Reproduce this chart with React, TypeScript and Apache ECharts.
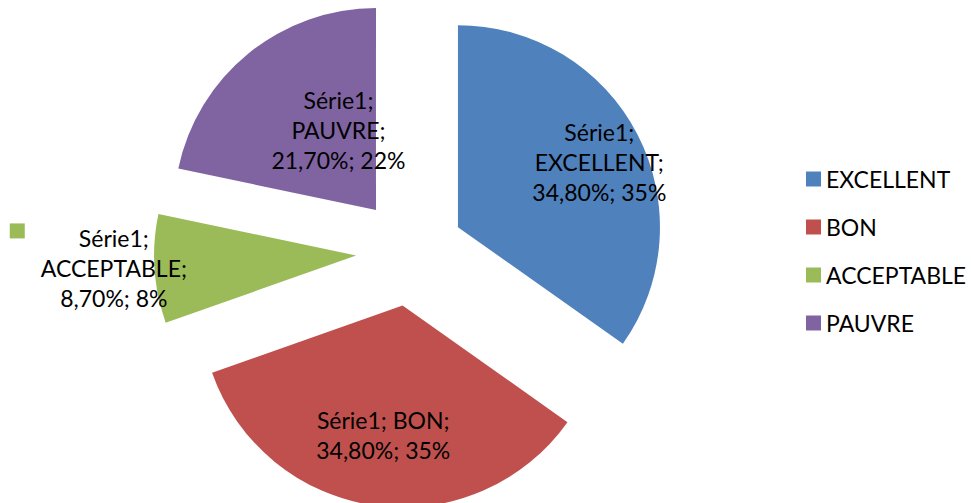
import React, { useEffect, useRef } from 'react';
import * as echarts from 'echarts';

const seriesName = 'Série1';
const categories = ['EXCELLENT', 'BON', 'ACCEPTABLE', 'PAUVRE'];
const values = [34.8, 34.8, 8.7, 21.7];
const roundedPercents = [35, 35, 8, 22];
const colors = ['#4F81BD', '#C0504D', '#9BBB59', '#8064A2'];

// Label placement tweaks (layout only)
const labelShift: number[][] = [[49, -17], [-5, 27], [-154, 6], [28, 1]];
const headOnOneLine = [false, true, false, false];
const legendKeyInLabel = [false, false, true, false];

const FONT = 'Lato, "Liberation Sans", sans-serif';
const FS = 23;
const LH = 30;

export default function App() {
  const ref = useRef<HTMLDivElement>(null);
  useEffect(() => {
    if (!ref.current) return;
    const chart = echarts.init(ref.current, undefined, { renderer: 'svg' });
    const total = values.reduce((a, b) => a + b, 0);
    chart.setOption({
      animation: false,
      color: colors,
      legend: {
        orient: 'vertical',
        left: 801,
        top: 162,
        icon: 'rect',
        itemWidth: 15,
        itemHeight: 15,
        itemGap: 24,
        data: categories,
        textStyle: { fontFamily: FONT, fontSize: FS, lineHeight: 24, color: '#000' },
        selectedMode: false,
      },
      series: [
        {
          type: 'pie',
          name: seriesName,
          center: [410, 252],
          radius: 202,
          startAngle: 90,
          clockwise: true,
          selectedMode: 'multiple',
          selectedOffset: 54,
          emphasis: { disabled: true },
          itemStyle: { borderWidth: 0 },
          labelLine: { show: false },
          label: {
            show: true,
            position: 'inside',
            color: '#000',
            fontFamily: FONT,
            fontSize: FS,
            lineHeight: LH,
            align: 'center',
            formatter: (p: any) => {
              const i = p.dataIndex;
              const pct = ((values[i] / total) * 100).toFixed(2).replace('.', ',') + '%; ' + roundedPercents[i] + '%';
              const head = seriesName + ';';
              const name = p.name + ';';
              if (legendKeyInLabel[i]) {
                return `{sq|}{g1|}{t|${head}}\n{g2|}{t|${name}}\n{g2|}{t|${pct}}`;
              }
              if (headOnOneLine[i]) return `${head} ${name}\n${pct}`;
              return `${head}\n${name}\n${pct}`;
            },
            rich: {
              sq: { width: 15, height: 15, backgroundColor: colors[2], align: 'left', verticalAlign: 'top' },
              g1: { width: 16, height: 15, align: 'left' },
              g2: { width: 31, height: 15, align: 'left' },
              t: { align: 'center', fontFamily: FONT, fontSize: FS, lineHeight: LH, color: '#000' },
            },
          },
          labelLayout: (params: any) => ({
            dx: labelShift[params.dataIndex][0],
            dy: labelShift[params.dataIndex][1],
          }),
          data: categories.map((c, i) => ({ name: c, value: values[i], selected: true })),
        },
      ],
    });
    return () => chart.dispose();
  }, []);
  return <div ref={ref} style={{ position: 'absolute', left: 0, top: 0, width: 971, height: 503 }} />;
}
